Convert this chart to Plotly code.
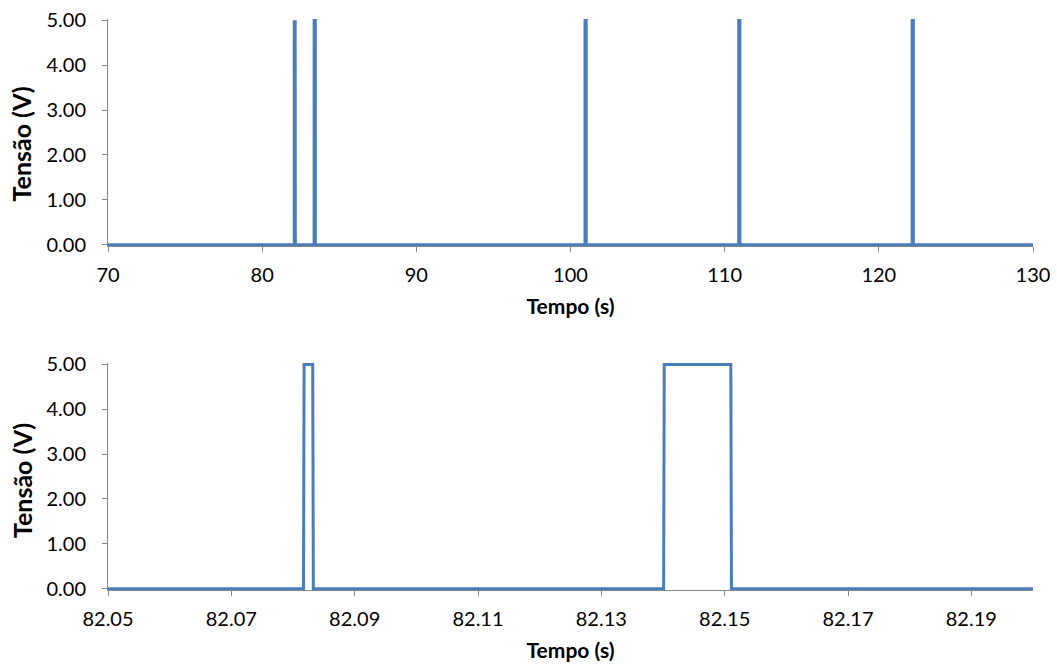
import plotly.graph_objects as go

# Pulse train over the full acquisition window (time in s, voltage in V)
tempo_total = [70.0,
               82.0817, 82.0818, 82.0832, 82.0833,
               82.1401, 82.1402, 82.1510, 82.1511,
               83.37, 83.371, 83.45, 83.451,
               100.94, 100.941, 101.02, 101.021,
               110.91, 110.911, 110.99, 110.991,
               122.16, 122.161, 122.24, 122.241,
               130.0]
tensao_total = [0.0,
                0.0, 5.0, 5.0, 0.0,
                0.0, 5.0, 5.0, 0.0,
                0.0, 5.0, 5.0, 0.0,
                0.0, 5.0, 5.0, 0.0,
                0.0, 5.0, 5.0, 0.0,
                0.0, 5.0, 5.0, 0.0,
                0.0]

# Detail of the first two pulses
tempo_zoom = [82.05,
              82.0817, 82.0818, 82.0832, 82.0833,
              82.1401, 82.1402, 82.1510, 82.1511,
              82.20]
tensao_zoom = [0.0,
               0.0, 5.0, 5.0, 0.0,
               0.0, 5.0, 5.0, 0.0,
               0.0]

y_ticks = [0, 1, 2, 3, 4, 5]
y_labels = ["0.00", "1.00", "2.00", "3.00", "4.00", "5.00"]

LINE_BLUE = "#4A7EBB"
AXIS_GRAY = "#868686"
FONT = "Lato"

fig = go.Figure()
fig.add_trace(go.Scatter(x=tempo_total, y=tensao_total, mode="lines",
                         line=dict(color=LINE_BLUE, width=3),
                         xaxis="x", yaxis="y", showlegend=False))
fig.add_trace(go.Scatter(x=tempo_zoom, y=tensao_zoom, mode="lines",
                         line=dict(color=LINE_BLUE, width=3),
                         xaxis="x2", yaxis="y2", showlegend=False))

common_x = dict(showgrid=False, zeroline=False, showline=True,
                automargin=False,
                linecolor=AXIS_GRAY, linewidth=1,
                ticks="outside", ticklen=5, tickcolor=AXIS_GRAY,
                tickfont=dict(family=FONT, size=20, color="black"),
                ticklabelstandoff=6)
common_y = dict(showgrid=False, zeroline=False, showline=True,
                automargin=False,
                linecolor=AXIS_GRAY, linewidth=1,
                ticks="outside", ticklen=5, tickcolor=AXIS_GRAY,
                tickvals=y_ticks, ticktext=y_labels,
                range=[-0.03, 5.03],
                tickfont=dict(family=FONT, size=20, color="black"),
                ticklabelstandoff=12)
title_font = dict(family=FONT, size=21, color="black", weight="bold")
ytitle_font = dict(family=FONT, size=25, color="black", weight="bold")

fig.update_layout(
    width=1057, height=666,
    margin=dict(l=108, r=24, t=19, b=76),
    paper_bgcolor="white", plot_bgcolor="white",
    xaxis=dict(domain=[0, 1], anchor="y", range=[70, 130],
               tick0=70, dtick=10,
               title=dict(text="Tempo (s)", font=title_font, standoff=14),
               **common_x),
    yaxis=dict(domain=[0.6025, 1], anchor="x", **common_y),
    xaxis2=dict(domain=[0, 1], anchor="y2", range=[82.05, 82.20],
                tick0=82.05, dtick=0.02, tickformat=".2f",
                title=dict(text="Tempo (s)", font=title_font, standoff=14),
                **common_x),
    yaxis2=dict(domain=[0, 0.3975], anchor="x2", **common_y),
    annotations=[
        dict(text="Tensão (V)", textangle=-90, xref="paper", yref="paper",
             x=-0.093, y=0.782, xanchor="center", yanchor="middle",
             showarrow=False, font=ytitle_font),
        dict(text="Tensão (V)", textangle=-90, xref="paper", yref="paper",
             x=-0.093, y=0.1926, xanchor="center", yanchor="middle",
             showarrow=False, font=ytitle_font),
    ],
)

fig.write_html("out.html")
